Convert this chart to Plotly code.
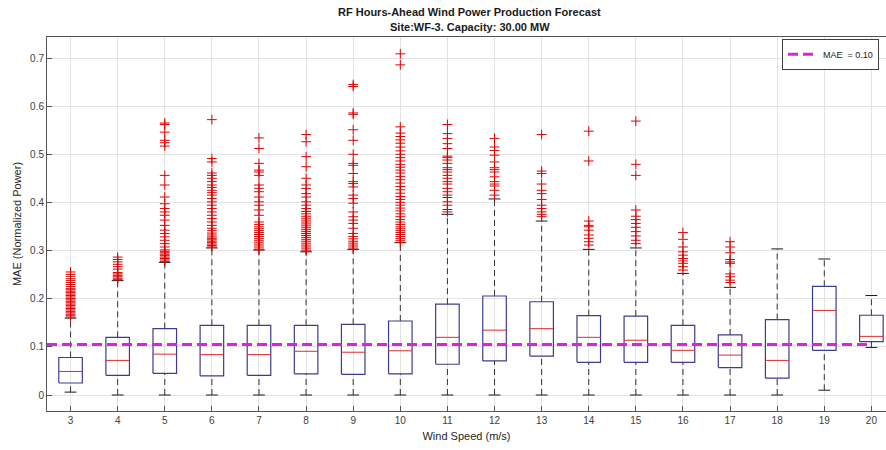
import plotly.graph_objects as go

# ---------------- data ----------------
speeds = [3, 4, 5, 6, 7, 8, 9, 10, 11, 12, 13, 14, 15, 16, 17, 18, 19, 20]
q1 = [0.025, 0.041, 0.045, 0.040, 0.041, 0.044, 0.043, 0.044, 0.064, 0.071,
      0.081, 0.068, 0.068, 0.068, 0.057, 0.035, 0.093, 0.111]
med = [0.049, 0.072, 0.085, 0.084, 0.084, 0.091, 0.089, 0.092, 0.120, 0.135,
       0.138, 0.120, 0.114, 0.093, 0.083, 0.072, 0.176, 0.122]
q3 = [0.078, 0.120, 0.138, 0.145, 0.145, 0.145, 0.147, 0.154, 0.189, 0.206,
      0.194, 0.165, 0.164, 0.145, 0.125, 0.157, 0.226, 0.166]
lw = [0.006, 0.0, 0.0, 0.0, 0.0, 0.0, 0.0, 0.0, 0.0, 0.0,
      0.0, 0.0, 0.0, 0.0, 0.0, 0.0, 0.010, 0.099]
uw = [0.160, 0.238, 0.276, 0.306, 0.302, 0.298, 0.303, 0.317, 0.376, 0.408,
      0.362, 0.303, 0.306, 0.253, 0.224, 0.304, 0.283, 0.207]

out_3 = [0.162, 0.165, 0.168, 0.171, 0.174, 0.177, 0.180, 0.183, 0.186, 0.189,
         0.192, 0.195, 0.198, 0.201, 0.204, 0.207, 0.210, 0.213, 0.216, 0.219,
         0.222, 0.226, 0.230, 0.234, 0.238, 0.242, 0.247, 0.251, 0.256]
out_4 = [0.240, 0.243, 0.246, 0.249, 0.252, 0.255, 0.262, 0.267, 0.272, 0.277,
         0.282, 0.287]
out_5 = [0.278, 0.281, 0.284, 0.287, 0.290, 0.293, 0.296, 0.299, 0.302, 0.308,
         0.315, 0.322, 0.329, 0.336, 0.343, 0.353, 0.364, 0.374, 0.381, 0.388,
         0.398, 0.412, 0.437, 0.457, 0.518, 0.525, 0.530, 0.547, 0.563, 0.566]
out_6 = [0.308, 0.311, 0.314, 0.317, 0.320, 0.323, 0.326, 0.329, 0.333, 0.337,
         0.342, 0.347, 0.353, 0.360, 0.367, 0.374, 0.381, 0.388, 0.395, 0.402,
         0.409, 0.416, 0.421, 0.426, 0.432, 0.437, 0.444, 0.451, 0.457, 0.462,
         0.485, 0.492, 0.573]
out_7 = [0.302, 0.306, 0.310, 0.314, 0.318, 0.322, 0.326, 0.330, 0.334, 0.338,
         0.342, 0.346, 0.350, 0.355, 0.360, 0.374, 0.385, 0.395, 0.402, 0.412,
         0.423, 0.430, 0.437, 0.457, 0.464, 0.468, 0.482, 0.513, 0.535]
out_8 = [0.300, 0.304, 0.308, 0.312, 0.316, 0.320, 0.324, 0.328, 0.332, 0.336,
         0.340, 0.344, 0.348, 0.352, 0.356, 0.360, 0.364, 0.368, 0.372, 0.377,
         0.382, 0.388, 0.395, 0.402, 0.412, 0.419, 0.430, 0.437, 0.451, 0.475,
         0.496, 0.527, 0.542]
out_9 = [0.304, 0.308, 0.312, 0.316, 0.320, 0.325, 0.330, 0.336, 0.347, 0.357,
         0.364, 0.371, 0.381, 0.399, 0.409, 0.416, 0.433, 0.440, 0.444, 0.461,
         0.478, 0.482, 0.501, 0.530, 0.552, 0.584, 0.587, 0.642, 0.646]
out_10 = [0.318, 0.322, 0.326, 0.330, 0.334, 0.338, 0.342, 0.346, 0.350, 0.355,
          0.360, 0.365, 0.371, 0.377, 0.383, 0.389, 0.395, 0.401, 0.407, 0.413,
          0.420, 0.427, 0.434, 0.441, 0.448, 0.455, 0.462, 0.468, 0.474, 0.480,
          0.487, 0.494, 0.501, 0.508, 0.516, 0.524, 0.531, 0.538, 0.545, 0.558,
          0.687, 0.710]
out_11 = [0.381, 0.386, 0.395, 0.402, 0.411, 0.416, 0.423, 0.430, 0.439, 0.444,
          0.451, 0.457, 0.464, 0.469, 0.473, 0.482, 0.489, 0.494, 0.497, 0.513,
          0.523, 0.534, 0.544, 0.563]
out_12 = [0.416, 0.426, 0.435, 0.439, 0.444, 0.454, 0.464, 0.469, 0.473, 0.485,
          0.499, 0.509, 0.516, 0.534]
out_13 = [0.371, 0.376, 0.381, 0.388, 0.395, 0.407, 0.419, 0.426, 0.439, 0.461,
          0.466, 0.542]
out_14 = [0.312, 0.319, 0.326, 0.333, 0.343, 0.350, 0.353, 0.362, 0.487, 0.549]
out_15 = [0.315, 0.322, 0.331, 0.340, 0.349, 0.357, 0.365, 0.372, 0.385, 0.457,
          0.480, 0.570]
out_16 = [0.260, 0.267, 0.274, 0.279, 0.284, 0.291, 0.298, 0.308, 0.324, 0.338]
out_17 = [0.234, 0.239, 0.246, 0.252, 0.274, 0.277, 0.282, 0.296, 0.308, 0.319]
out_18 = []
out_19 = []
out_20 = []

mae_value = 0.105
mae_label = "MAE  = 0.10"

title_line1 = "RF Hours-Ahead Wind Power Production Forecast"
title_line2 = "Site:WF-3. Capacity: 30.00 MW"
x_title = "Wind Speed (m/s)"
y_title = "MAE (Normalized Power)"
y_ticks = [0, 0.1, 0.2, 0.3, 0.4, 0.5, 0.6, 0.7]
y_ticklabels = ["0", "0.1", "0.2", "0.3", "0.4", "0.5", "0.6", "0.7"]

outliers = [out_3, out_4, out_5, out_6, out_7, out_8, out_9, out_10, out_11,
            out_12, out_13, out_14, out_15, out_16, out_17, out_18, out_19, out_20]

# ---------------- geometry built from data ----------------
BOX_HW = 0.25
CAP_HW = 0.125

bx, by = [], []
mx, my = [], []
wx, wy = [], []
cx, cy = [], []
ox, oy = [], []
for i, s in enumerate(speeds):
    bx += [s - BOX_HW, s + BOX_HW, s + BOX_HW, s - BOX_HW, s - BOX_HW, None]
    by += [q1[i], q1[i], q3[i], q3[i], q1[i], None]
    mx += [s - BOX_HW, s + BOX_HW, None]
    my += [med[i], med[i], None]
    wx += [s, s, None, s, s, None]
    wy += [q3[i], uw[i], None, lw[i], q1[i], None]
    cx += [s - CAP_HW, s + CAP_HW, None, s - CAP_HW, s + CAP_HW, None]
    cy += [uw[i], uw[i], None, lw[i], lw[i], None]
    for v in outliers[i]:
        ox.append(s)
        oy.append(v)

fig = go.Figure()
fig.add_trace(go.Scatter(x=wx, y=wy, mode="lines", showlegend=False, hoverinfo="skip",
                         line=dict(color="#333333", width=1, dash="6px,4px")))
fig.add_trace(go.Scatter(x=cx, y=cy, mode="lines", showlegend=False, hoverinfo="skip",
                         line=dict(color="#1a1a1a", width=1)))
fig.add_trace(go.Scatter(x=bx, y=by, mode="lines", showlegend=False, hoverinfo="skip",
                         line=dict(color="#3d3d8f", width=1.2)))
fig.add_trace(go.Scatter(x=mx, y=my, mode="lines", showlegend=False, hoverinfo="skip",
                         line=dict(color="#e02a2a", width=1)))
fig.add_trace(go.Scatter(x=ox, y=oy, mode="markers", showlegend=False,
                         marker=dict(symbol="cross-thin", size=7, color="#e00000",
                                     line=dict(color="#e00000", width=1))))
fig.add_trace(go.Scatter(x=[speeds[0] - 0.5, speeds[-1]], y=[mae_value, mae_value],
                         mode="lines", name=mae_label, showlegend=True,
                         line=dict(color="#dd22dd", width=3, dash="10px,5px")))

font_family = "Liberation Sans, Arial, sans-serif"
title_font = dict(family=font_family, size=11, color="#1a1a1a")
fig.update_layout(
    width=886, height=450,
    margin=dict(l=47, r=0, t=37, b=39),
    paper_bgcolor="white", plot_bgcolor="white",
    font=dict(family=font_family, size=10, color="#404040"),
    showlegend=True,
    legend=dict(x=0.9917, xanchor="right", y=0.995, yanchor="top",
                bgcolor="white", bordercolor="#404040", borderwidth=1,
                font=dict(size=9, color="#1a1a1a"),
                itemwidth=30, tracegroupgap=0),
    annotations=[
        dict(text="<b>" + title_line1 + "</b>", xref="paper", yref="paper",
             x=0.504, y=1.0668, xanchor="center", yanchor="middle",
             showarrow=False, font=title_font),
        dict(text="<b>" + title_line2 + "</b>", xref="paper", yref="paper",
             x=0.504, y=1.0267, xanchor="center", yanchor="middle",
             showarrow=False, font=title_font),
    ],
)
fig.update_xaxes(range=[2.5, 20.31], tickmode="array", tickvals=speeds,
                 ticktext=[str(s) for s in speeds],
                 showgrid=True, gridcolor="#e3e3e3", gridwidth=1, zeroline=False,
                 showline=True, linecolor="#555555", linewidth=1, mirror=True,
                 ticks="inside", ticklen=5, tickcolor="#555555",
                 tickfont=dict(size=10, color="#404040"),
                 title=dict(text=x_title, standoff=7, font=dict(size=11, color="#262626")))
fig.update_yaxes(range=[-0.0333, 0.745], tickmode="array", tickvals=y_ticks,
                 ticktext=y_ticklabels,
                 showgrid=True, gridcolor="#e3e3e3", gridwidth=1, zeroline=False,
                 showline=True, linecolor="#555555", linewidth=1, mirror=False,
                 ticks="inside", ticklen=5, tickcolor="#555555",
                 tickfont=dict(size=10, color="#404040"),
                 title=dict(text=y_title, standoff=6, font=dict(size=11, color="#262626")))

fig.write_html("out.html")
